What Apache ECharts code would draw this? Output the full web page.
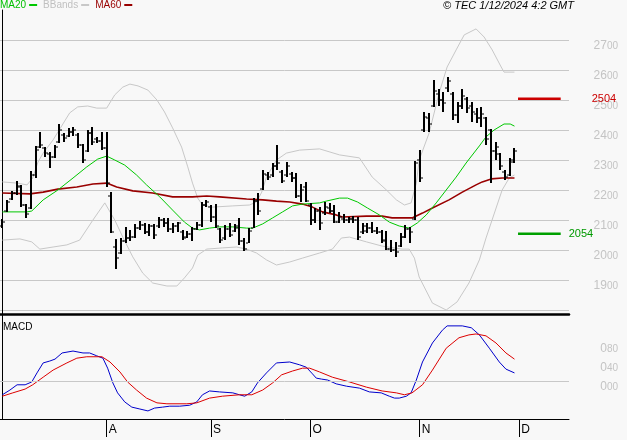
<!DOCTYPE html>
<html><head><meta charset="utf-8">
<script src="https://cdn.jsdelivr.net/npm/echarts@6/dist/echarts.min.js"></script>
<style>html,body{margin:0;padding:0;background:#f8f8f8;}#c{width:627px;height:440px;}</style>
</head><body><div id="c"></div>
<script>
// ---- data ----
const open = [2080,2130,2170,2190,2210,2150,2140,2250,2345,2340,
  2320,2310,2360,2385,2380,2395,2385,2350,2330,2390,
  2370,2365,2340,2180,2010,1990,2030,2040,2045,2075,
  2085,2060,2080,2080,2100,2090,2070,2080,2060,2045,
  2055,2070,2085,2150,2145,2110,2070,2040,2070,2065,
  2080,2030,2025,2075,2165,2205,2250,2250,2280,2260,
  2250,2255,2240,2180,2210,2150,2100,2130,2125,2140,
  2130,2095,2105,2100,2105,2100,2060,2065,2075,2065,
  2060,2035,2005,2000,2015,2045,2070,2105,2300,2400,
  2440,2480,2520,2500,2540,2520,2450,2480,2505,2480,
  2455,2440,2440,2400,2330,2320,2260,2250,2300];
const high = [2103,2167,2197,2230,2217,2153,2263,2347,2393,2343,
  2327,2350,2420,2390,2407,2410,2390,2353,2400,2410,
  2377,2393,2393,2193,2037,2040,2077,2067,2087,2097,
  2090,2087,2087,2110,2107,2107,2090,2093,2067,2063,
  2077,2093,2160,2167,2150,2153,2073,2083,2090,2087,
  2107,2040,2073,2173,2190,2267,2260,2290,2350,2267,
  2293,2260,2257,2220,2227,2157,2140,2143,2160,2157,
  2150,2127,2120,2110,2113,2110,2090,2090,2093,2077,
  2067,2063,2033,2027,2057,2083,2077,2297,2333,2460,
  2457,2567,2537,2527,2577,2527,2493,2537,2510,2493,
  2473,2477,2443,2403,2360,2323,2267,2307,2340];
const low = [2073,2127,2167,2183,2143,2107,2137,2240,2340,2310,
  2273,2307,2357,2360,2377,2380,2340,2290,2327,2350,
  2357,2333,2210,2057,1937,1987,2023,2030,2040,2067,
  2053,2047,2037,2073,2077,2060,2057,2060,2033,2040,
  2030,2067,2077,2143,2093,2073,2023,2033,2043,2060,
  2017,1997,2023,2073,2117,2200,2233,2243,2267,2223,
  2243,2227,2173,2160,2160,2083,2090,2067,2117,2123,
  2090,2090,2090,2090,2090,2033,2053,2057,2057,2053,
  2023,2000,1993,1977,2010,2040,2023,2100,2227,2393,
  2393,2477,2480,2460,2527,2433,2423,2470,2457,2427,
  2423,2410,2350,2223,2300,2267,2233,2247,2290];
const close = [2095,2160,2190,2215,2150,2120,2250,2335,2350,2325,
  2310,2345,2400,2375,2395,2400,2350,2300,2390,2360,
  2365,2340,2225,2060,1975,2030,2040,2045,2075,2085,
  2060,2080,2050,2100,2090,2070,2080,2090,2040,2055,
  2070,2085,2150,2160,2110,2080,2035,2070,2050,2075,
  2030,2005,2065,2165,2130,2255,2245,2280,2290,2230,
  2280,2240,2180,2200,2165,2100,2130,2090,2145,2130,
  2095,2110,2100,2105,2100,2045,2080,2075,2065,2060,
  2030,2005,2000,1995,2045,2070,2060,2290,2240,2445,
  2420,2530,2500,2490,2565,2450,2480,2515,2475,2460,
  2440,2455,2370,2330,2345,2280,2245,2295,2330];

// indicator lines: [bar index, value]
const ma20 = [[0,2127],[5.2,2127],[6.2,2130],[8.6,2167],[11.7,2200],[14.9,2240],[17.8,2277],[20.1,2303],[22,2313],[23.7,2300],[25.8,2283],[28.3,2250],[30.4,2217],[33.2,2177],[35.9,2133],[38.4,2093],[40.1,2073],[41.6,2067],[43.7,2073],[45.8,2077],[48.6,2077],[51.5,2073],[52.8,2073],[54.9,2087],[57,2107],[59.1,2127],[61.2,2147],[63.3,2153],[66.9,2157],[68.3,2163],[71.1,2173],[72.8,2173],[74.9,2160],[77,2140],[79.5,2117],[81.6,2093],[83.7,2080],[85.8,2073],[87.5,2090],[89.4,2117],[91.5,2157],[93.6,2200],[95.7,2243],[97.8,2290],[100.6,2347],[102,2377],[103.7,2400],[105.8,2420],[107.1,2420],[108,2413]];
const ma60 = [[0,2190],[5.8,2187],[8.6,2193],[11.7,2203],[15.7,2210],[19.1,2220],[22,2223],[24.1,2210],[27.5,2197],[31.7,2190],[35.9,2177],[40.1,2177],[43.1,2180],[45.8,2177],[51.5,2170],[54.9,2167],[57.8,2163],[60.6,2160],[63.3,2153],[65.4,2143],[67.5,2127],[70.4,2117],[71.7,2110],[76.8,2113],[80.1,2113],[82.2,2107],[86.4,2107],[88.6,2123],[90.7,2140],[94.2,2167],[97,2193],[99.9,2217],[101.2,2227],[103.1,2237],[105.4,2240],[108,2240]];
const bbUpper = [[0,2227],[3.1,2223],[5.2,2217],[6.4,2240],[7.5,2293],[8.6,2323],[10.7,2367],[14.2,2457],[15.9,2477],[18,2480],[19.9,2473],[22,2473],[23.7,2517],[25.4,2543],[26.9,2553],[28.6,2547],[30.7,2533],[32.6,2500],[34.2,2460],[35.9,2407],[37.8,2343],[39.1,2277],[40.1,2223],[41.2,2173],[42.2,2150],[44.3,2143],[48.6,2147],[52.1,2150],[53.6,2160],[54.7,2193],[55.7,2243],[57.8,2300],[59.9,2323],[62.7,2333],[66.9,2337],[71.1,2317],[75.3,2307],[78,2243],[81,2200],[83.1,2167],[84.8,2150],[86.2,2157],[87.3,2223],[87.9,2300],[90,2390],[92.1,2523],[93.8,2610],[95.7,2667],[97.4,2717],[99.9,2737],[101.6,2710],[103.3,2667],[105.2,2610],[105.8,2593],[108,2593]];
const bbLower = [[0,2033],[3.7,2037],[6.2,2027],[7.9,2003],[10.7,2010],[13.6,2017],[16.3,2033],[19.1,2100],[21.6,2157],[22.7,2127],[23.7,2100],[25.4,2043],[27.5,1977],[29.6,1923],[31.7,1890],[34.7,1880],[36.8,1880],[38.4,1907],[40.1,1940],[41.2,1983],[43.1,2003],[46.4,2007],[49.4,2010],[51.5,2003],[53.6,1990],[55.7,1967],[57.8,1950],[60.6,1960],[63.3,1973],[66.9,1990],[69.6,2003],[71.5,2040],[73.2,2043],[76.8,2027],[80.1,2013],[84.3,2003],[85.8,2003],[86.9,1973],[87.9,1910],[90.7,1823],[93.6,1800],[95.9,1827],[98.4,1890],[100.6,1967],[102,2040],[103.7,2120],[105.4,2200],[106.9,2240],[108,2250]];
const macd = [[0,-0.29],[1.6,-0.19],[3.1,-0.08],[4.8,-0.08],[6.2,-0.02],[7.3,0.17],[8.6,0.38],[10,0.42],[11.1,0.46],[12.6,0.59],[14.9,0.63],[17,0.59],[18.4,0.59],[19.9,0.53],[21.2,0.48],[22.2,0.27],[23.3,-0.04],[24.3,-0.25],[25.8,-0.44],[27.3,-0.55],[29,-0.59],[30.7,-0.63],[32.1,-0.57],[33.8,-0.55],[35.3,-0.53],[37.4,-0.53],[39.5,-0.51],[41,-0.44],[42.2,-0.29],[43.7,-0.21],[45.8,-0.23],[48.6,-0.25],[50,-0.29],[51.1,-0.32],[52.6,-0.23],[53.8,-0.04],[55.7,0.17],[57.8,0.38],[60.6,0.4],[62.7,0.34],[64.1,0.29],[65.4,0.15],[66.2,0.06],[67.3,0.04],[68.6,0.02],[70.4,-0.06],[72.6,-0.11],[75.3,-0.15],[77.4,-0.23],[79.9,-0.25],[81.6,-0.32],[82.7,-0.36],[83.7,-0.36],[85.2,-0.32],[86.2,-0.25],[87.3,0.02],[88.6,0.4],[90.7,0.8],[92.8,1.07],[93.8,1.16],[97,1.16],[98.9,1.12],[100.6,0.97],[102.7,0.69],[104.8,0.4],[106.2,0.25],[108,0.17]];
const signal = [[0,-0.32],[2.2,-0.25],[4.8,-0.17],[6.4,-0.08],[8.6,0.08],[10.7,0.23],[13.6,0.38],[15.7,0.48],[17.8,0.51],[21,0.51],[22.7,0.4],[24.8,0.19],[26.4,-0.02],[28.3,-0.19],[30.4,-0.36],[32.6,-0.46],[34.7,-0.48],[38.9,-0.48],[41,-0.46],[43.7,-0.36],[46.4,-0.32],[50,-0.29],[52.6,-0.29],[54.9,-0.19],[57,-0.04],[58.9,0.13],[61.2,0.21],[63.3,0.27],[64.8,0.27],[66.9,0.19],[69.6,0.08],[73.2,-0.02],[76.8,-0.13],[80.1,-0.21],[83.1,-0.25],[84.8,-0.29],[86.4,-0.25],[88.6,-0.08],[90.7,0.23],[93.6,0.69],[96.3,0.91],[98.4,0.97],[99.9,0.99],[102,0.95],[104.1,0.8],[106.2,0.59],[108,0.46]];

const resistanceLevel = 2504;
const supportLevel = 2054;
const priceTicks = [1900,2000,2100,2200,2300,2400,2500,2600,2700];
const macdTicks = [0, 0.4, 0.8];
const monthLetters = ['J','F','M','A','M','J','J','A','S','O','N','D'];

// categories: trading days (weekdays) starting 2 Jul 2024, plus empty future slots
const slotCount = 120;
const categories = [];
{
  const d = new Date(Date.UTC(2024, 6, 2));
  while (categories.length < slotCount) {
    const wd = d.getUTCDay();
    if (wd !== 0 && wd !== 6) categories.push(d.toISOString().slice(0, 10));
    d.setUTCDate(d.getUTCDate() + 1);
  }
}
const monthStart = categories.map((c, i) => i > 0 && c.slice(5, 7) !== categories[i - 1].slice(5, 7));

// ---- chart ----
const FONT = '"Liberation Sans", Arial, sans-serif';
const ohlc = open.map((o, i) => [i, o, high[i], low[i], close[i]]);
const levelSpan = [108.75, 117.75];

const chart = echarts.init(document.getElementById('c'), null, {renderer: 'canvas'});
chart.setOption({
  animation: false,
  backgroundColor: '#f8f8f8',
  textStyle: {fontFamily: FONT},
  legend: {
    left: 0, top: 0, padding: 0, align: 'right', icon: 'rect',
    itemWidth: 8, itemHeight: 2, itemGap: 6, selectedMode: false,
    textStyle: {fontSize: 10, fontFamily: FONT, padding: [0, -2, 0, 0]},
    data: [
      {name: 'MA20', textStyle: {color: '#00c000'}},
      {name: 'BBands', textStyle: {color: '#c0c0c0'}},
      {name: 'MA60', textStyle: {color: '#990000'}}
    ]
  },
  graphic: [
    {type: 'text', right: 53, top: 0, style: {text: '© TEC 1/12/2024 4:2 GMT', font: 'italic 11px ' + FONT, fill: '#000'}},
    {type: 'text', left: 3, top: 322, style: {text: 'MACD', font: '10px ' + FONT, fill: '#000'}}
  ],
  grid: [
    {left: 0, top: 10, width: 569, height: 330},
    {left: 0, top: 314, width: 569, height: 105}
  ],
  xAxis: [
    {type: 'value', gridIndex: 0, min: -0.5, max: slotCount - 0.5, show: false},
    {type: 'value', gridIndex: 1, min: -0.5, max: slotCount - 0.5, show: false},
    {type: 'category', gridIndex: 1, position: 'bottom', data: categories, boundaryGap: true,
      axisLine: {show: true, lineStyle: {color: '#000', width: 1}},
      axisTick: {show: true, alignWithLabel: true, length: 18, interval: (i) => monthStart[i], lineStyle: {color: '#000'}},
      axisLabel: {show: true, interval: (i) => monthStart[i],
        formatter: (v) => monthLetters[+v.slice(5, 7) - 1], align: 'left', margin: 5, padding: [0, 0, 0, 2],
        color: '#000', fontSize: 12, fontFamily: FONT},
      splitLine: {show: false}},
    {type: 'category', gridIndex: 1, position: 'top', data: categories, boundaryGap: true,
      axisLine: {show: true, lineStyle: {color: '#000', width: 2.5}},
      axisTick: {show: false}, axisLabel: {show: false}, splitLine: {show: false}}
  ],
  yAxis: [
    {type: 'value', gridIndex: 0, position: 'right', min: 1700, max: 2800, interval: 100, scale: false,
      axisLine: {show: true, lineStyle: {color: '#000', width: 1}},
      axisTick: {show: false},
      splitLine: {show: true, showMinLine: false, showMaxLine: false, lineStyle: {color: '#c8c8c8', width: 1}},
      axisLabel: {show: true, align: 'right', margin: 49, verticalAlign: 'top',
        formatter: (v) => priceTicks.includes(v) ? '{a|' + String(v).slice(0, 2) + '}{b|' + String(v).slice(2) + '}' : '',
        rich: {a: {fontSize: 12, color: '#c4c4c4', fontFamily: FONT}, b: {fontSize: 10, color: '#c4c4c4', fontFamily: FONT}}}},
    {type: 'value', gridIndex: 1, position: 'right', min: -0.8, max: 1.41, interval: 0.4,
      axisLine: {show: true, lineStyle: {color: '#000', width: 1}},
      axisTick: {show: false}, splitLine: {show: false},
      axisLabel: {show: true, align: 'right', margin: 49, verticalAlign: 'top',
        formatter: (v) => {
          const t = macdTicks.find((m) => Math.abs(m - v) < 1e-6);
          if (t === undefined) return '';
          return '{a|0}{b|' + String(Math.round(t * 100)).padStart(2, '0') + '}';
        },
        rich: {a: {fontSize: 12, color: '#c4c4c4', fontFamily: FONT}, b: {fontSize: 10, color: '#c4c4c4', fontFamily: FONT}}}}
  ],
  series: [
    {name: 'BBands', type: 'line', xAxisIndex: 0, yAxisIndex: 0, data: bbUpper, symbol: 'none', color: '#c8c8c8',
      lineStyle: {width: 1, color: '#c8c8c8'}, z: 1},
    {name: 'BBands', type: 'line', xAxisIndex: 0, yAxisIndex: 0, data: bbLower, symbol: 'none', color: '#c8c8c8',
      lineStyle: {width: 1, color: '#c8c8c8'}, z: 1},
    {name: 'MA60', type: 'line', xAxisIndex: 0, yAxisIndex: 0, data: ma60, symbol: 'none', color: '#990000',
      lineStyle: {width: 1.6, color: '#990000'}, z: 2},
    {name: 'MA20', type: 'line', xAxisIndex: 0, yAxisIndex: 0, data: ma20, symbol: 'none', color: '#00c800',
      lineStyle: {width: 1, color: '#00c800'}, z: 2},
    {name: 'OHLC', type: 'custom', xAxisIndex: 0, yAxisIndex: 0, data: ohlc, z: 3,
      encode: {x: 0, y: [1, 2, 3, 4]},
      renderItem: (params, api) => {
        const x = api.value(0);
        const pH = api.coord([x, api.value(2)]);
        const pL = api.coord([x, api.value(3)]);
        const pO = api.coord([x, api.value(1)]);
        const pC = api.coord([x, api.value(4)]);
        const cx = Math.round(pH[0]);
        return {type: 'group', children: [
          {type: 'rect', shape: {x: cx - 1, y: pH[1], width: 2, height: Math.max(1, pL[1] - pH[1])}, style: {fill: '#000'}},
          {type: 'rect', shape: {x: cx - 3, y: Math.round(pO[1]) - 0.5, width: 2, height: 1}, style: {fill: '#000'}},
          {type: 'rect', shape: {x: cx + 1, y: Math.round(pC[1]) - 0.5, width: 2, height: 1}, style: {fill: '#000'}}
        ]};
      }},
    {name: 'Resistance', type: 'line', xAxisIndex: 0, yAxisIndex: 0, symbol: 'none',
      data: [[levelSpan[0], resistanceLevel], [levelSpan[1], resistanceLevel]],
      lineStyle: {width: 2.5, color: '#cc0000'}, color: '#cc0000', z: 4,
      endLabel: {show: true, formatter: String(resistanceLevel), distance: 31, color: '#cc0000', fontSize: 11, fontFamily: FONT}},
    {name: 'Support', type: 'line', xAxisIndex: 0, yAxisIndex: 0, symbol: 'none',
      data: [[levelSpan[0], supportLevel], [levelSpan[1], supportLevel]],
      lineStyle: {width: 2.5, color: '#00a000'}, color: '#00a000', z: 4,
      endLabel: {show: true, formatter: String(supportLevel), distance: 8, color: '#009900', fontSize: 11, fontFamily: FONT}},
    {name: 'MACD', type: 'line', xAxisIndex: 1, yAxisIndex: 1, data: macd, symbol: 'none', color: '#0000cc',
      lineStyle: {width: 1, color: '#0000cc'}, z: 3,
      markLine: {silent: true, symbol: 'none', label: {show: false}, lineStyle: {color: '#c8c8c8', width: 1, type: 'solid'},
        data: [{yAxis: 0}], animation: false}},
    {name: 'Signal', type: 'line', xAxisIndex: 1, yAxisIndex: 1, data: signal, symbol: 'none', color: '#dd0000',
      lineStyle: {width: 1, color: '#dd0000'}, z: 3}
  ]
});
</script></body></html>
